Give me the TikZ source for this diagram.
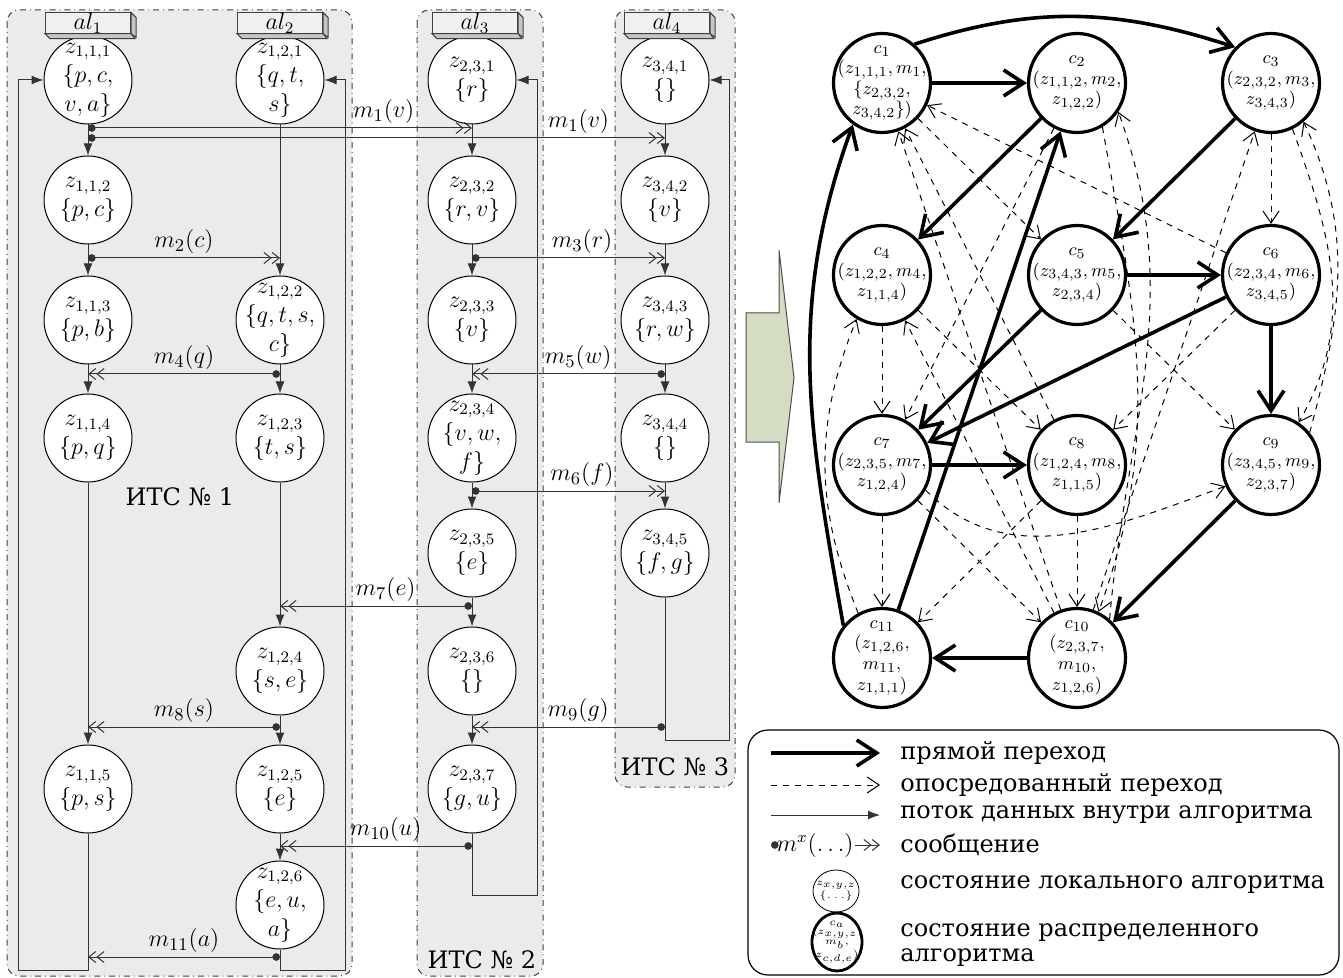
\documentclass[tikz,border=0pt]{standalone}
\usepackage{amsmath}
\usepackage{amssymb}
\usepackage{xcolor}
\usepackage{fontspec}
\setmainfont{DejaVu Serif}
\usepackage{tikz}
\usetikzlibrary{positioning,arrows.meta,shapes.geometric}

\definecolor{panelgray}{RGB}{235,235,235}
\definecolor{arrowgreen}{RGB}{212,220,196}

\newcommand{\msgl}[2]{$m_{#1}\mathbf{(}#2\mathbf{)}$}
\newcommand{\alside}[1]{%
  \draw[alshade] (#1.north east) -- ++(5,-5) -- ++(0,-20) -- (#1.south east) -- cycle;
  \draw[alshade] (#1.south west) -- ++(5,-5) -- ++(85,0) -- (#1.south east) -- cycle;}

\begin{document}
\begin{tikzpicture}[x=0.5pt,y=0.5pt,
  panel/.style={draw=black!75,dash dot,line width=0.5pt,fill=panelgray,rounded corners=6pt},
  panellabel/.style={inner sep=0pt,font=\fontsize{12}{13}\selectfont},
  alhead/.style={draw=black!75,fill=gray!12,line width=0.5pt,minimum width=42.5pt,minimum height=10pt,inner sep=0pt,font=\fontsize{11.5}{11}\selectfont},
  alshade/.style={draw=black!75,fill=gray!45,line width=0.5pt},
  lstate/.style={circle,draw,fill=white,line width=0.5pt,minimum size=44pt,inner sep=-7pt,align=center,font=\fontsize{11.5}{14.5}\selectfont},
  flow/.style={draw=black!80,line width=0.5pt,-{Latex[length=6pt,width=4.5pt]}},
  msg/.style={draw=black!80,line width=0.5pt,{Circle[length=3.8pt]}-{Straight Barb[length=3.5pt,width=5.5pt]Straight Barb[length=3.5pt,width=5.5pt]}},
  mlabel/.style={anchor=south,inner sep=2pt,font=\fontsize{12.5}{13}\selectfont},
  dstate/.style={ellipse,draw,fill=white,line width=1.6pt,minimum width=48.5pt,minimum height=49.5pt,inner sep=-9pt,align=center,font=\fontsize{9.5}{10.3}\selectfont},
  directedge/.style={line width=1.8pt,-{Straight Barb[length=10pt,width=13pt]}},
  indirectedge/.style={dashed,line width=0.5pt,-{Straight Barb[length=6pt,width=8pt]}},
  legendbox/.style={draw,line width=0.6pt,rounded corners=10pt},
  legtext/.style={anchor=west,inner sep=0pt,font=\fontsize{12}{14}\selectfont},
  lsmall/.style={ellipse,draw,fill=white,line width=0.4pt,minimum width=23pt,minimum height=21pt,inner sep=-5pt,align=center,font=\fontsize{4.5}{5.5}\selectfont},
  dsmall/.style={ellipse,draw,fill=white,line width=1.4pt,minimum width=25pt,minimum height=29pt,inner sep=-5pt,align=center,font=\fontsize{4.1}{4.8}\selectfont},
  bigarrow/.style={draw=black!70,line width=0.5pt,fill=arrowgreen}]
\useasboundingbox (0,0) rectangle (1343,-978);

\draw[panel] (7,-10) rectangle (352,-976);
\draw[panel] (417,-10) rectangle (543,-976);
\draw[panel] (615,-10) rectangle (735,-787);
\node[panellabel] (its1) at (180,-497) {ИТС № 1};
\node[panellabel] (its2) at (482,-960) {ИТС № 2};
\node[panellabel] (its3) at (675,-767) {ИТС № 3};

\node[lstate] (z111) at (88,-80) {$z_{1,1,1}$\\$\{p,c,$\\$v,a\}$};
\node[lstate] (z112) at (88,-200) {$z_{1,1,2}$\\$\{p,c\}$};
\node[lstate] (z113) at (88,-320) {$z_{1,1,3}$\\$\{p,b\}$};
\node[lstate] (z114) at (88,-438) {$z_{1,1,4}$\\$\{p,q\}$};
\node[lstate] (z115) at (88,-789) {$z_{1,1,5}$\\$\{p,s\}$};
\node[lstate] (z121) at (280,-80) {$z_{1,2,1}$\\$\{q,t,$\\$s\}$};
\node[lstate] (z122) at (280,-320) {$z_{1,2,2}$\\$\{q,t,s,$\\$c\}$};
\node[lstate] (z123) at (280,-438) {$z_{1,2,3}$\\$\{t,s\}$};
\node[lstate] (z124) at (280,-671) {$z_{1,2,4}$\\$\{s,e\}$};
\node[lstate] (z125) at (280,-789) {$z_{1,2,5}$\\$\{e\}$};
\node[lstate] (z126) at (280,-905) {$z_{1,2,6}$\\$\{e,u,$\\$a\}$};
\node[lstate] (z231) at (472,-80) {$z_{2,3,1}$\\$\{r\}$};
\node[lstate] (z232) at (472,-200) {$z_{2,3,2}$\\$\{r,v\}$};
\node[lstate] (z233) at (472,-320) {$z_{2,3,3}$\\$\{v\}$};
\node[lstate] (z234) at (472,-438) {$z_{2,3,4}$\\$\{v,w,$\\$f\}$};
\node[lstate] (z235) at (472,-553) {$z_{2,3,5}$\\$\{e\}$};
\node[lstate] (z236) at (472,-671) {$z_{2,3,6}$\\$\{\}$};
\node[lstate] (z237) at (472,-789) {$z_{2,3,7}$\\$\{g,u\}$};
\node[lstate] (z341) at (665,-80) {$z_{3,4,1}$\\$\{\}$};
\node[lstate] (z342) at (665,-200) {$z_{3,4,2}$\\$\{v\}$};
\node[lstate] (z343) at (665,-320) {$z_{3,4,3}$\\$\{r,w\}$};
\node[lstate] (z344) at (665,-438) {$z_{3,4,4}$\\$\{\}$};
\node[lstate] (z345) at (665,-553) {$z_{3,4,5}$\\$\{f,g\}$};

\node[alhead] (al1) at (88,-23) {$al_1$};
\node[alhead] (al2) at (280,-23) {$al_2$};
\node[alhead] (al3) at (475,-23) {$al_3$};
\node[alhead] (al4) at (667,-23) {$al_4$};
\alside{al1}
\alside{al2}
\alside{al3}
\alside{al4}

\foreach \a/\b in {z111/z112,z112/z113,z113/z114,z114/z115,
                   z121/z122,z122/z123,z123/z124,z124/z125,z125/z126,
                   z231/z232,z232/z233,z233/z234,z234/z235,z235/z236,z236/z237,
                   z341/z342,z342/z343,z343/z344,z344/z345}
  \draw[flow] (\a) -- (\b);

\coordinate (ret1) at (18,-970);
\coordinate (ret2) at (345,-970);
\coordinate (ret3) at (537,-895);
\coordinate (ret4) at (729,-740);
\draw[flow] (z115) |- (ret1) |- (z111);
\draw[flow] (z126) |- (ret2) |- (z121);
\draw[flow] (z237) |- (ret3) |- (z231);
\draw[flow] (z345) |- (ret4) |- (z341);

\coordinate (m1a) at (z111 |- 0,-128);
\coordinate (m1b) at (z111 |- 0,-138);
\coordinate (m2) at (z112 |- 0,-258);
\coordinate (m3) at (z232 |- 0,-258);
\coordinate (m4) at (z122 |- 0,-374);
\coordinate (m5) at (z343 |- 0,-374);
\coordinate (m6) at (z234 |- 0,-491);
\coordinate (m7) at (z235 |- 0,-606);
\coordinate (m8) at (z124 |- 0,-727);
\coordinate (m9) at (z345 |- 0,-727);
\coordinate (m10) at (z237 |- 0,-846);
\coordinate (m11) at (z126 |- 0,-957);
\draw[msg] (m1a) -- (m1a -| z231) node[mlabel,pos=0.77] (l1a) {\msgl{1}{v}};
\draw[msg] (m1b) -- (m1b -| z341) node[mlabel,pos=0.85] (l1b) {\msgl{1}{v}};
\draw[msg] (m2) -- (m2 -| z122) node[mlabel,midway] (l2) {\msgl{2}{c}};
\draw[msg] (m3) -- (m3 -| z343) node[mlabel,pos=0.57] (l3) {\msgl{3}{r}};
\draw[msg] (m4) -- (m4 -| z114) node[mlabel,midway] (l4) {\msgl{4}{q}};
\draw[msg] (m5) -- (m5 -| z234) node[mlabel,pos=0.45] (l5) {\msgl{5}{w}};
\draw[msg] (m6) -- (m6 -| z345) node[mlabel,pos=0.57] (l6) {\msgl{6}{f}};
\draw[msg] (m7) -- (m7 -| z124) node[mlabel,pos=0.45] (l7) {\msgl{7}{e}};
\draw[msg] (m8) -- (m8 -| z115) node[mlabel,midway] (l8) {\msgl{8}{s}};
\draw[msg] (m9) -- (m9 -| z237) node[mlabel,pos=0.45] (l9) {\msgl{9}{g}};
\draw[msg] (m10) -- (m10 -| z126) node[mlabel,pos=0.45] (l10) {\msgl{10}{u}};
\draw[msg] (m11) -- (m11 -| z115) node[mlabel,midway] (l11) {\msgl{11}{a}};

\draw[bigarrow] (746,-313) -- (779,-313) -- (779,-250) -- (794,-378) -- (779,-503) -- (779,-442) -- (746,-442) -- cycle;

\node[dstate] (c1) at (882,-83) {$c_1$\\$(z_{1,1,1},m_1,$\\$\{z_{2,3,2},$\\$z_{3,4,2}\})$};
\node[dstate] (c2) at (1077,-83) {$c_2$\\$(z_{1,1,2},m_2,$\\$z_{1,2,2})$};
\node[dstate] (c3) at (1271,-83) {$c_3$\\$(z_{2,3,2},m_3,$\\$z_{3,4,3})$};
\node[dstate] (c4) at (882,-275) {$c_4$\\$(z_{1,2,2},m_4,$\\$z_{1,1,4})$};
\node[dstate] (c5) at (1077,-275) {$c_5$\\$(z_{3,4,3},m_5,$\\$z_{2,3,4})$};
\node[dstate] (c6) at (1271,-275) {$c_6$\\$(z_{2,3,4},m_6,$\\$z_{3,4,5})$};
\node[dstate] (c7) at (882,-465) {$c_7$\\$(z_{2,3,5},m_7,$\\$z_{1,2,4})$};
\node[dstate] (c8) at (1077,-465) {$c_8$\\$(z_{1,2,4},m_8,$\\$z_{1,1,5})$};
\node[dstate] (c9) at (1271,-465) {$c_9$\\$(z_{3,4,5},m_9,$\\$z_{2,3,7})$};
\node[dstate] (c11) at (882,-658) {$c_{11}$\\$(z_{1,2,6},$\\$m_{11},$\\$z_{1,1,1})$};
\node[dstate] (c10) at (1077,-658) {$c_{10}$\\$(z_{2,3,7},$\\$m_{10},$\\$z_{1,2,6})$};

\draw[indirectedge] (c1) -- (c5);
\draw[indirectedge] (c6) -- (c1);
\draw[indirectedge] (c8) -- (c1);
\draw[indirectedge] (c10) -- (c1);
\draw[indirectedge] (c2) -- (c7);
\draw[indirectedge] (c3) -- (c6);
\draw[indirectedge] (c4) -- (c7);
\draw[indirectedge] (c4) -- (c8);
\draw[indirectedge] (c10) -- (c4);
\draw[indirectedge] (c11.118) to[out=112,in=248] (c4.240);
\draw[indirectedge] (c5) -- (c9);
\draw[indirectedge] (c6) -- (c8);
\draw[indirectedge] (c2.-60) to[out=-80,in=70] (c10.65);
\draw[indirectedge] (c10.50) to[out=85,in=-70] (c2.-35);
\draw[indirectedge] (c3.-65) to[out=-70,in=60] (c9.57);
\draw[indirectedge] (c9.40) to[out=75,in=-65] (c3.-50);
\draw[indirectedge] (c10) -- (c3);
\draw[indirectedge] (c7) -- (c11);
\draw[indirectedge] (c8) -- (c10);
\draw[indirectedge] (c7.-30) to[out=-45,in=200] (c9.205);
\draw[indirectedge] (c8) -- (c11);
\draw[indirectedge] (c7) -- (c10);

\draw[directedge] (c1) -- (c2);
\draw[directedge] (c1.50) to[out=18,in=162] (c3.135);
\draw[directedge] (c2) -- (c4);
\draw[directedge] (c3) -- (c5);
\draw[directedge] (c5) -- (c6);
\draw[directedge] (c5) -- (c7);
\draw[directedge] (c6) -- (c7);
\draw[directedge] (c6) -- (c9);
\draw[directedge] (c7) -- (c8);
\draw[directedge] (c9) -- (c10);
\draw[directedge] (c10) -- (c11);
\draw[directedge] (c11) -- (c2);
\draw[directedge] (c11.140) to[out=100,in=250] (c1.235);

\draw[legendbox] (748,-730) rectangle (1339,-975);
\coordinate (lg1a) at (771,-753);
\coordinate (lg1b) at (880,-753);
\coordinate (lg2a) at (771,-785);
\coordinate (lg2b) at (880,-785);
\coordinate (lg3a) at (771,-815);
\coordinate (lg3b) at (880,-815);
\coordinate (lg4a) at (771,-845);
\coordinate (lg4b) at (880,-845);
\draw[directedge] (lg1a) -- (lg1b);
\draw[indirectedge] (lg2a) -- (lg2b);
\draw[flow] (lg3a) -- (lg3b);
\node[inner sep=0.5pt,font=\fontsize{11.5}{12}\selectfont] (lg4m) at (815,-845) {$m^x\mathbf{(\ldots)}$};
\draw[draw=black!80,line width=0.5pt,{Circle[length=3.8pt]}-] (lg4a) -- (lg4m);
\draw[draw=black!80,line width=0.5pt,-{Straight Barb[length=3.5pt,width=5.5pt]Straight Barb[length=3.5pt,width=5.5pt]}] (lg4m) -- (lg4b);
\node[lsmall] (lg5) at (836,-891) {$z_{x,y,z}$\\$\{\ldots\}$};
\node[dsmall] (lg6) at (837,-942) {$c_a$\\$(z_{x,y,z},$\\$m_b,$\\$z_{c,d,e})$};
\node[legtext] (t1) at (900,-753) {прямой переход};
\node[legtext] (t2) at (900,-785) {опосредованный переход};
\node[legtext] (t3) at (900,-815) {поток данных внутри алгоритма};
\node[legtext] (t4) at (900,-845) {сообщение};
\node[legtext] (t5) at (900,-885) {состояние локального алгоритма};
\node[legtext] (t6) at (900,-933) {состояние распределенного};
\node[legtext] (t7) at (900,-958) {алгоритма};
\end{tikzpicture}
\end{document}
